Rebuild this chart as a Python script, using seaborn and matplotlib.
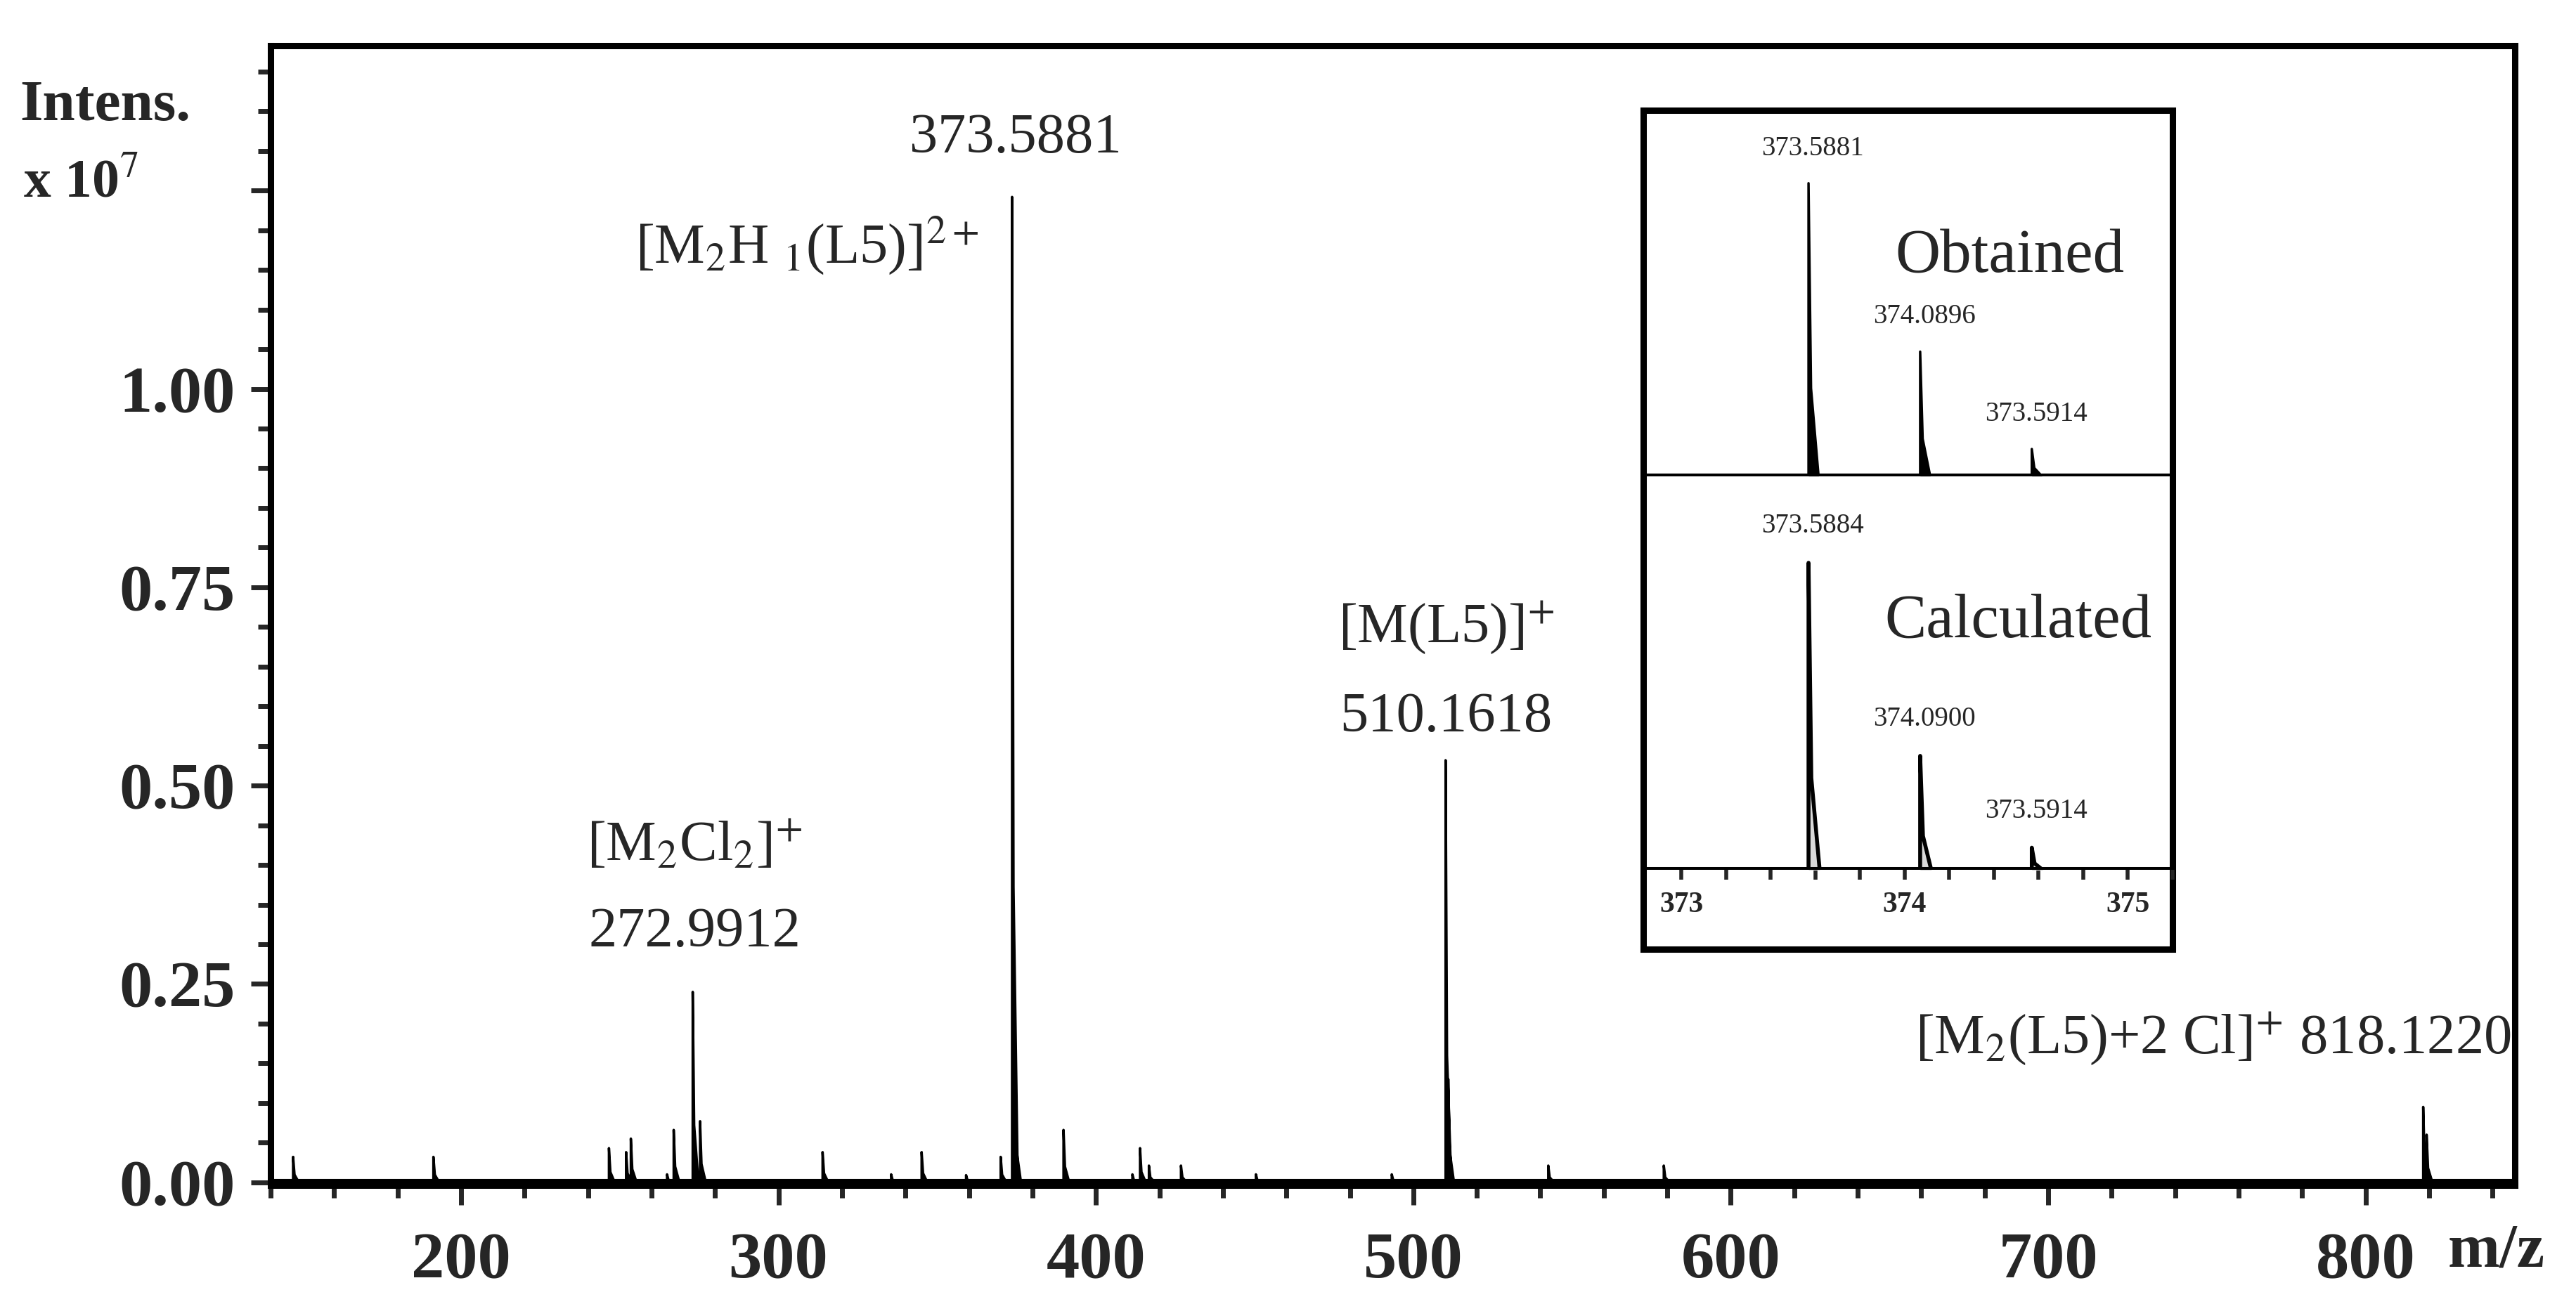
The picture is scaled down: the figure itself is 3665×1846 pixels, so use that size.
import numpy as np
import pandas as pd
import seaborn as sns
import matplotlib.pyplot as plt
from matplotlib.ticker import MultipleLocator, NullFormatter, FixedLocator

# main spectrum: peak positions (m/z) and heights (x 10^7)
PEAK_MZ = [147.1, 191.3, 246.6, 252.0, 253.5, 264.9, 267.0, 272.99, 275.3, 313.9,
           335.5, 345.1, 359.1, 370.0, 373.59, 374.6, 389.8, 411.5, 413.9, 416.7,
           426.8, 450.4, 493.2, 510.16, 511.0, 542.5, 578.9, 818.12, 819.2]
PEAK_H = [0.032, 0.032, 0.043, 0.038, 0.055, 0.010, 0.066, 0.24, 0.077, 0.038,
          0.010, 0.038, 0.009, 0.032, 1.242, 0.13, 0.066, 0.010, 0.043, 0.021,
          0.021, 0.010, 0.010, 0.532, 0.13, 0.021, 0.021, 0.095, 0.060]

# inset isotope pattern (relative heights)
ISO_MZ = [373.57, 374.07, 374.57]
OBT_H = [0.80, 0.34, 0.074]
CALC_H = [0.78, 0.29, 0.057]
OBT_LABELS = ["373.5881", "374.0896", "373.5914"]
CALC_LABELS = ["373.5884", "374.0900", "373.5914"]

Y_TICKS = [0.0, 0.25, 0.50, 0.75, 1.00]
Y_TICK_LABELS = ["0.00", "0.25", "0.50", "0.75", "1.00"]


def spectrum(mz, h, width):
    xs, ys = [], []
    for m, v in sorted(zip(mz, h)):
        xs += [m, m, m + width * 0.25, m + width]
        ys += [0, v, v * 0.3, 0]
    return pd.DataFrame({"mz": xs, "I": ys})


sns.set_theme(style="white")
plt.rcParams["font.family"] = ["Liberation Serif", "DejaVu Serif"]
plt.rcParams["mathtext.fontset"] = "stix"

fig = plt.figure(figsize=(36.66, 18.46), dpi=100)
ax = fig.add_axes([0.105, 0.086, 0.871, 0.879])

df = spectrum(PEAK_MZ, PEAK_H, 1.8)
ax.fill_between(df["mz"], df["I"], color="black", lw=0)
sns.lineplot(data=df, x="mz", y="I", ax=ax, color="black", lw=2.5, sort=False, estimator=None)
ax.axhline(0, color="black", lw=8)

ax.set_xlim(140, 847)
ax.set_ylim(-0.004, 1.433)
ax.set_xlabel("")
ax.set_ylabel("")
ax.xaxis.set_major_locator(MultipleLocator(100))
ax.xaxis.set_minor_locator(MultipleLocator(20))
ax.yaxis.set_major_locator(FixedLocator(Y_TICKS + [1.25]))
ax.set_yticklabels(Y_TICK_LABELS + [""])
ax.yaxis.set_minor_locator(MultipleLocator(0.05))
ax.tick_params(axis="both", which="major", direction="out", length=20, width=5,
               labelsize=68, pad=16, left=True, bottom=True)
ax.tick_params(axis="x", which="major", pad=28)
ax.tick_params(axis="both", which="minor", direction="out", length=13, width=5,
               left=True, bottom=True)
for lbl in ax.get_xticklabels() + ax.get_yticklabels():
    lbl.set_fontweight("bold")
for s in ax.spines.values():
    s.set_linewidth(6.5)
    s.set_color("black")

fs = 58
ax.text(374.6, 1.315, "373.5881", ha="center", va="center", fontsize=fs)
ax.text(309, 1.18, r"[M$_2$H $_1$(L5)]$^{2+}$", ha="center", va="center", fontsize=fs)
ax.text(510.4, 0.70, r"[M(L5)]$^{+}$", ha="center", va="center", fontsize=fs)
ax.text(510.4, 0.586, "510.1618", ha="center", va="center", fontsize=fs)
ax.text(273.6, 0.424, r"[M$_2$Cl$_2$]$^{+}$", ha="center", va="center", fontsize=fs)
ax.text(273.6, 0.315, "272.9912", ha="center", va="center", fontsize=fs)
ax.text(752, 0.182, r"[M$_2$(L5)+2 Cl]$^{+}$ 818.1220", ha="center", va="center", fontsize=fs)

fig.text(12 / 1568, 1 - 65 / 790, "Intens.", fontsize=60, fontweight="bold", va="center")
fig.text(14 / 1568, 1 - 112 / 790, r"x 10$^{7}$", fontsize=56, fontweight="bold", va="center")
fig.text(1519 / 1568, 1 - 762 / 790, "m/z", fontsize=64, fontweight="bold", ha="center", va="center")

# inset
x0, x1 = 1000 / 1568, 1322 / 1568
def fy(y):
    return 1 - y / 790
frame = fig.add_axes([x0, fy(578), x1 - x0, fy(67) - fy(578)])
frame.set_xticks([]); frame.set_yticks([])
for s in frame.spines.values():
    s.set_linewidth(6.5)
    s.set_color("black")

top = fig.add_axes([x0, fy(290), x1 - x0, fy(67) - fy(290)])
bot = fig.add_axes([x0, fy(530), x1 - x0, fy(290) - fy(530)])
for a in (top, bot):
    a.set_facecolor("none")
    a.set_xlim(372.83, 375.2)
    a.set_ylim(0, 1)
    a.set_yticks([])
    for s in a.spines.values():
        s.set_visible(False)
    a.axhline(0, color="black", lw=6.5)

dt = spectrum(ISO_MZ, OBT_H, 0.045)
top.fill_between(dt["mz"], dt["I"], color="black", lw=0)
sns.lineplot(data=dt, x="mz", y="I", ax=top, color="black", lw=2.5, sort=False, estimator=None)
top.set_xticks([])
top.set_xlabel(""); top.set_ylabel("")

db = spectrum(ISO_MZ, CALC_H, 0.05)
bot.fill_between(db["mz"], db["I"], color="#d9d9d9", lw=0)
sns.lineplot(data=db, x="mz", y="I", ax=bot, color="black", lw=4, sort=False, estimator=None)
bot.set_xlabel(""); bot.set_ylabel("")
bot.xaxis.set_major_locator(MultipleLocator(1))
bot.xaxis.set_minor_locator(MultipleLocator(0.2))
bot.xaxis.set_minor_formatter(NullFormatter())
bot.tick_params(axis="x", which="both", direction="out", length=10, width=4,
                labelsize=30, pad=12, bottom=True)
for lbl in bot.get_xticklabels():
    lbl.set_fontweight("bold")

for a, labels, hs in ((top, OBT_LABELS, OBT_H), (bot, CALC_LABELS, CALC_H)):
    for m, t, h in zip(ISO_MZ, labels, hs):
        a.text(m + 0.02, h + 0.06, t, ha="center", va="bottom", fontsize=28)
top.text(374.47, 0.60, "Obtained", ha="center", va="center", fontsize=64)
bot.text(374.51, 0.63, "Calculated", ha="center", va="center", fontsize=64)

fig.savefig("out.png", dpi=100)
